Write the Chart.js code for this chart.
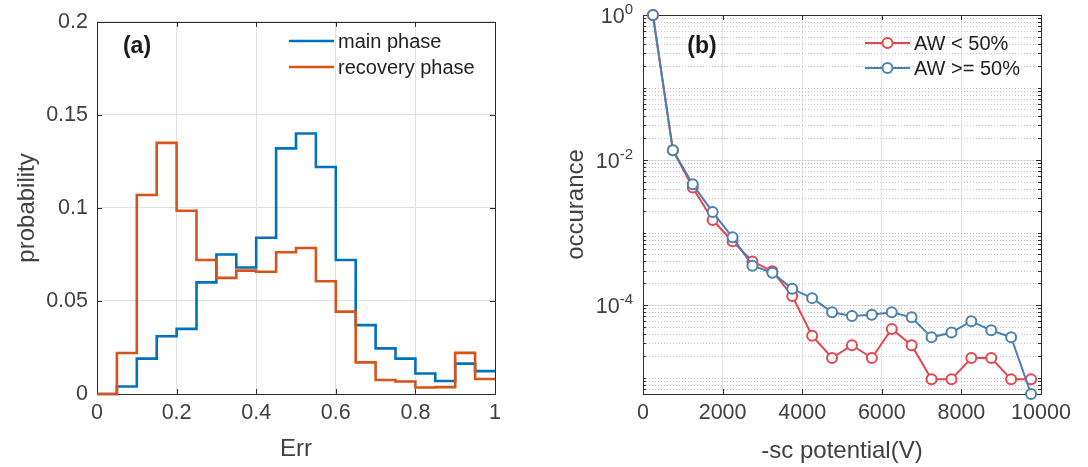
<!DOCTYPE html>
<html>
<head>
<meta charset="utf-8">
<script src="https://cdn.jsdelivr.net/npm/chart.js@4.4.1/dist/chart.umd.min.js"></script>
<style>
  body { margin: 0; background: #fff; width: 1088px; height: 467px; overflow: hidden; position: relative; }
  .panel { position: absolute; top: 0; height: 467px; }
</style>
</head>
<body>
<div class="panel" style="left:0;width:540px"><canvas id="chartErr" width="540" height="467"></canvas></div>
<div class="panel" style="left:540px;width:548px"><canvas id="chartSc" width="548" height="467"></canvas></div>
<script>
// ---------- DATA (a) : histogram of Err, bins of 0.05
var binEdges = [0, 0.05, 0.1, 0.15, 0.2, 0.25, 0.3, 0.35, 0.4, 0.45, 0.5,
                0.55, 0.6, 0.65, 0.7, 0.75, 0.8, 0.85, 0.9, 0.95, 1.0];
var mainPhase = [0, 0.004, 0.019, 0.031, 0.035, 0.060, 0.075, 0.068, 0.084, 0.132,
                 0.140, 0.122, 0.072, 0.037, 0.0245, 0.019, 0.011, 0.007, 0.0163, 0.0123];
var recoveryPhase = [0, 0.022, 0.107, 0.135, 0.0985, 0.072, 0.0624, 0.0663, 0.0657, 0.0762,
                     0.0785, 0.0606, 0.0443, 0.017, 0.0075, 0.0067, 0.0035, 0.0037, 0.0221, 0.0081];

// ---------- DATA (b) : occurance vs -sc potential
var potential = [250, 750, 1250, 1750, 2250, 2750, 3250, 3750, 4250, 4750,
                 5250, 5750, 6250, 6750, 7250, 7750, 8250, 8750, 9250, 9750];
var awLow  = [1, 0.0137, 0.0042, 0.00149, 7.6e-4, 4.0e-4, 2.94e-4, 1.34e-4, 3.8e-5, 1.87e-5,
              2.8e-5, 1.87e-5, 4.7e-5, 2.8e-5, 9.5e-6, 9.5e-6, 1.87e-5, 1.87e-5, 9.5e-6, 9.5e-6];
var awHigh = [1, 0.0137, 0.00463, 0.00192, 8.6e-4, 3.5e-4, 2.8e-4, 1.68e-4, 1.25e-4, 8.0e-5,
              7.1e-5, 7.4e-5, 8.0e-5, 6.8e-5, 3.6e-5, 4.2e-5, 6.0e-5, 4.5e-5, 3.6e-5, 5.96e-6];
var yLogTicks = [1e-4, 1e-2, 1];

var FONT = "'Liberation Sans', Arial, Helvetica, sans-serif";
var AXIS_COL = '#2b2b2b';
var TEXT_COL = '#404040';
var GRID_COL = '#e2e2e2';

// stairs points: value held from edge i to edge i+1
function stairs(edges, vals){
  var pts = [];
  for (var i = 0; i < vals.length; i++) pts.push({x: edges[i], y: vals[i]});
  pts.push({x: edges[vals.length], y: vals[vals.length - 1]});
  return pts;
}

function line(ctx, x1, y1, x2, y2){
  ctx.beginPath(); ctx.moveTo(x1, y1); ctx.lineTo(x2, y2); ctx.stroke();
}

// matlab style box, inward ticks, minor log grid, legend + panel label
var matlabAxes = {
  id: 'matlabAxes',
  beforeDatasetsDraw: function(chart, args, opts){
    var ctx = chart.ctx, a = chart.chartArea, sx = chart.scales.x, sy = chart.scales.y;
    ctx.save();
    if (opts.minorY){
      ctx.strokeStyle = '#c4c4c4'; ctx.lineWidth = 1; ctx.setLineDash([1, 2]);
      opts.minorY.forEach(function(v){
        var y = Math.round(sy.getPixelForValue(v)) + 0.5;
        if (y < a.top || y > a.bottom) return;
        line(ctx, a.left, y, a.right, y);
      });
      ctx.setLineDash([]);
      ctx.strokeStyle = AXIS_COL;
      opts.minorY.forEach(function(v){
        var y = Math.round(sy.getPixelForValue(v)) + 0.5;
        if (y < a.top || y > a.bottom) return;
        line(ctx, a.left, y, a.left + 3, y);
        line(ctx, a.right, y, a.right - 3, y);
      });
    }
    ctx.strokeStyle = AXIS_COL; ctx.lineWidth = 1;
    ctx.strokeRect(Math.round(a.left) + 0.5, Math.round(a.top) + 0.5,
                   Math.round(a.right - a.left), Math.round(a.bottom - a.top));
    sx.ticks.forEach(function(t){
      var x = Math.round(sx.getPixelForValue(t.value)) + 0.5;
      line(ctx, x, a.bottom, x, a.bottom - 5);
      line(ctx, x, a.top, x, a.top + 5);
    });
    sy.ticks.forEach(function(t){
      var y = Math.round(sy.getPixelForValue(t.value)) + 0.5;
      line(ctx, a.left, y, a.left + 5, y);
      line(ctx, a.right, y, a.right - 5, y);
    });
    ctx.restore();
  },
  afterDraw: function(chart, args, opts){
    var ctx = chart.ctx, a = chart.chartArea, sy = chart.scales.y;
    ctx.save();
    // log tick labels 10^n
    if (opts.powLabels){
      sy.ticks.forEach(function(t){
        var y = sy.getPixelForValue(t.value);
        var e = String(Math.round(Math.log10(t.value)));
        ctx.font = '15px ' + FONT;
        var we = ctx.measureText(e).width;
        ctx.fillStyle = TEXT_COL;
        ctx.textBaseline = 'middle';
        ctx.textAlign = 'left';
        var right = a.left - 10;
        ctx.fillText(e, right - we, y - 5);
        ctx.font = '21.5px ' + FONT;
        ctx.textAlign = 'right';
        ctx.fillText('10', right - we, y + 2);
      });
    }
    // panel label
    ctx.font = 'bold 23px ' + FONT;
    ctx.fillStyle = '#1a1a1a';
    ctx.textAlign = 'center'; ctx.textBaseline = 'middle';
    ctx.fillText(opts.panel.text, opts.panel.x, opts.panel.y);
    // legend
    var lg = opts.legend;
    chart.data.datasets.forEach(function(ds, i){
      var item = lg.order[i];
      var d = chart.data.datasets[item];
      var y = lg.y + i * lg.gap;
      ctx.strokeStyle = d.borderColor; ctx.lineWidth = d.borderWidth;
      line(ctx, lg.x, y, lg.x + lg.len, y);
      if (d.pointRadius){
        ctx.beginPath(); ctx.arc(lg.x + lg.len / 2, y, d.pointRadius, 0, Math.PI * 2);
        ctx.fillStyle = '#fff'; ctx.fill();
        ctx.lineWidth = d.pointBorderWidth; ctx.stroke();
      }
      ctx.font = '20px ' + FONT;
      ctx.fillStyle = '#1f1f1f';
      ctx.textAlign = 'left'; ctx.textBaseline = 'middle';
      ctx.fillText(d.label, lg.x + lg.len + 4, y + 1);
    });
    ctx.restore();
  }
};

function tickFont(){ return {family: FONT, size: 21.5}; }

// ---------- (a)
new Chart(document.getElementById('chartErr').getContext('2d'), {
  type: 'line',
  data: {
    datasets: [{
      label: 'recovery phase',
      data: stairs(binEdges, recoveryPhase),
      borderColor: '#D95319',
      borderWidth: 2.6,
      stepped: 'before',
      pointRadius: 0,
      fill: false,
      clip: false,
      order: 0
    }, {
      label: 'main phase',
      data: stairs(binEdges, mainPhase),
      borderColor: '#0072BD',
      borderWidth: 2.6,
      stepped: 'before',
      pointRadius: 0,
      fill: false,
      clip: false,
      order: 1
    }]
  },
  options: {
    responsive: false,
    animation: false,
    layout: {padding: {top: 14, right: 45, left: 0, bottom: 0}},
    plugins: {
      legend: {display: false},
      tooltip: {enabled: false},
      matlabAxes: {
        panel: {text: '(a)', x: 137, y: 47},
        legend: {x: 289, y: 41, gap: 26, len: 45, order: [1, 0]}
      }
    },
    scales: {
      x: {
        type: 'linear', min: 0, max: 1,
        ticks: {stepSize: 0.2, font: tickFont(), color: TEXT_COL, padding: 6, maxRotation: 0,
                callback: function(v){ return String(+v.toFixed(2)); }},
        grid: {color: GRID_COL, drawTicks: false},
        border: {display: false},
        title: {display: true, text: 'Err', font: {family: FONT, size: 24}, color: TEXT_COL,
                padding: {top: 0, bottom: 3}},
        afterFit: function(s){ s.height = 73; }
      },
      y: {
        type: 'linear', min: 0, max: 0.2,
        ticks: {stepSize: 0.05, font: tickFont(), color: TEXT_COL, padding: 9,
                callback: function(v){ return String(+v.toFixed(2)); }},
        grid: {color: GRID_COL, drawTicks: false},
        border: {display: false},
        title: {display: true, text: 'probability', font: {family: FONT, size: 24}, color: TEXT_COL,
                padding: {top: 13, bottom: 0}},
        afterFit: function(s){ s.width = 97; }
      }
    }
  },
  plugins: [matlabAxes]
});

// ---------- (b)
var minorY = [];
[1e-6, 1e-5, 1e-4, 1e-3, 1e-2, 1e-1].forEach(function(d){
  for (var k = 1; k <= 9; k++) minorY.push(k * d);
});

new Chart(document.getElementById('chartSc').getContext('2d'), {
  type: 'line',
  data: {
    datasets: [{
      label: 'AW < 50%',
      data: potential.map(function(p, i){ return {x: p, y: awLow[i]}; }),
      borderColor: '#E8464C',
      borderWidth: 2,
      pointRadius: 5,
      pointBorderWidth: 2,
      pointBackgroundColor: '#fff',
      pointBorderColor: '#E8464C',
      fill: false,
      clip: false,
      order: 1
    }, {
      label: 'AW >= 50%',
      data: potential.map(function(p, i){ return {x: p, y: awHigh[i]}; }),
      borderColor: '#4D80B2',
      borderWidth: 2,
      pointRadius: 5,
      pointBorderWidth: 2,
      pointBackgroundColor: '#fff',
      pointBorderColor: '#4D80B2',
      fill: false,
      clip: false,
      order: 0
    }]
  },
  options: {
    responsive: false,
    animation: false,
    layout: {padding: {top: 15, right: 47, left: 0, bottom: 0}},
    plugins: {
      legend: {display: false},
      tooltip: {enabled: false},
      matlabAxes: {
        minorY: minorY,
        powLabels: true,
        panel: {text: '(b)', x: 162, y: 47},
        legend: {x: 325, y: 43, gap: 25, len: 45, order: [0, 1]}
      }
    },
    scales: {
      x: {
        type: 'linear', min: 0, max: 10000,
        ticks: {stepSize: 2000, font: tickFont(), color: TEXT_COL, padding: 6, maxRotation: 0,
                callback: function(v){ return String(v); }},
        grid: {color: GRID_COL, drawTicks: false},
        border: {display: false},
        title: {display: true, text: '-sc potential(V)', font: {family: FONT, size: 24}, color: TEXT_COL,
                padding: {top: 0, bottom: 1}},
        afterFit: function(s){ s.height = 73; }
      },
      y: {
        type: 'logarithmic', min: 5.96e-6, max: 1,
        afterBuildTicks: function(s){ s.ticks = yLogTicks.map(function(v){ return {value: v}; }); },
        ticks: {display: false},
        grid: {color: GRID_COL, drawTicks: false},
        border: {display: false},
        title: {display: true, text: 'occurance', font: {family: FONT, size: 24}, color: TEXT_COL,
                padding: {top: 22, bottom: 0}},
        afterFit: function(s){ s.width = 103; }
      }
    }
  },
  plugins: [matlabAxes]
});
</script>
</body>
</html>
